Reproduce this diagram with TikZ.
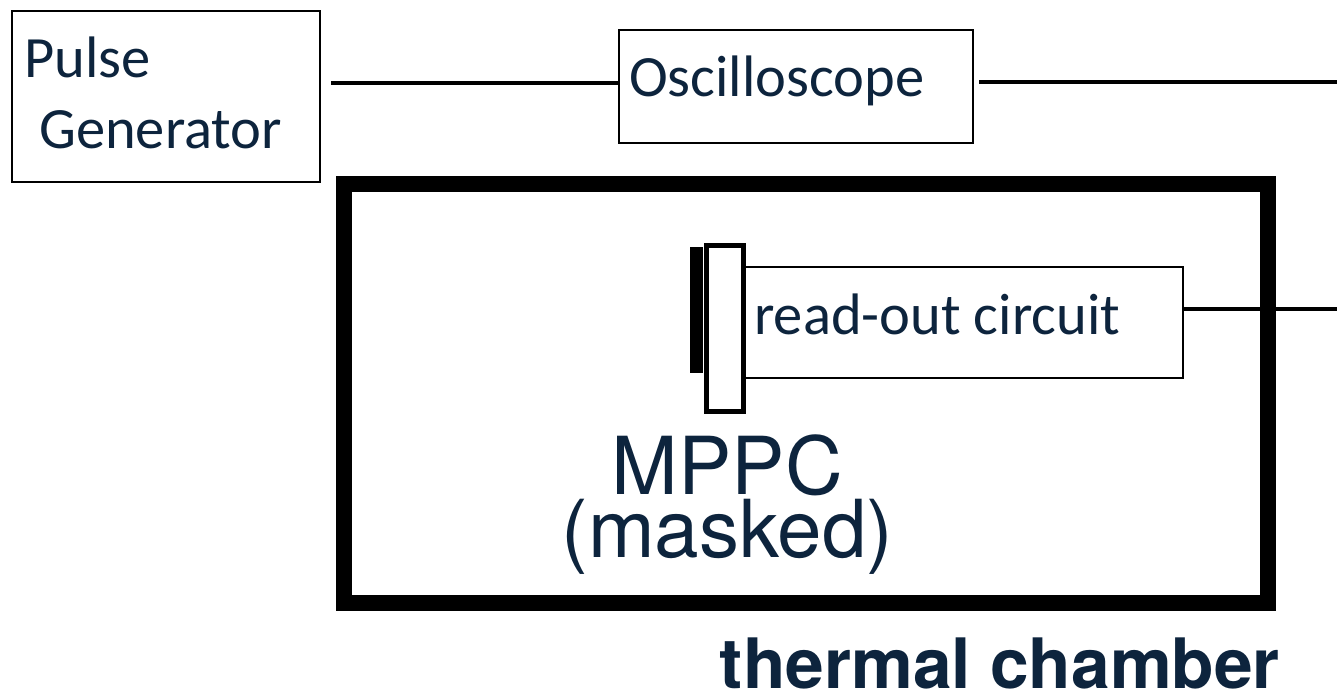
\documentclass[tikz,border=0pt]{standalone}
\usepackage{fontspec}
\setmainfont{Carlito}
\newfontfamily\heros{TeX Gyre Heros}
\definecolor{ink}{HTML}{0D243D}
\tikzset{
  device/.style={draw=black, line width=2.5pt, fill=white, inner sep=0pt},
  wire/.style={draw=black, line width=4.5pt},
  lbl/.style={inner sep=0pt, text=ink, font=\fontsize{58.5}{70}\selectfont},
}
\begin{document}
\begin{tikzpicture}[x=1pt, y=-1pt]
\useasboundingbox (0,0) rectangle (1337,696);

% instruments on the bench
\node[device, minimum width=308pt, minimum height=171pt] (pg) at (166,96.5) {};
\node[device, minimum width=354pt, minimum height=113pt] (osc) at (796,86.5) {};
\node[lbl, anchor=base west] (pgl1) at (24,77) {Pulse};
\node[lbl, anchor=base west] (pgl2) at (39,148) {Generator};
\node[lbl, anchor=base west] (oscl) at (629,96) {Oscilloscope};

% thermal chamber with the sensor and its read-out board
\node[draw=black, line width=16pt, minimum width=924pt, minimum height=419pt, inner sep=0pt] (chamber) at (806,393.5) {};
\node[device, minimum width=438pt, minimum height=111pt] (ro) at (964,322.5) {};
\node[lbl, anchor=base west] (rol) at (754,334) {read-out circuit};
\node[fill=black, minimum width=13pt, minimum height=126pt, inner sep=0pt] (mask) at (696.5,310) {};
\node[draw=black, line width=5pt, fill=white, minimum width=37pt, minimum height=166pt, inner sep=0pt] (mppc) at (725,328.5) {};
% base anchor of a two-line node sits on its last line
\node[inner sep=0pt, text=ink, align=center, font=\heros\fontsize{80}{63}\selectfont, anchor=base] (mppcl) at (727.5,557) {MPPC\\(masked)};
\node[inner sep=0pt, text=ink, font=\heros\bfseries\fontsize{69.5}{80}\selectfont, anchor=base] (chl) at (1000,688) {thermal chamber};

% cables
\coordinate (oscout) at (1337,82);
\coordinate (roout) at (1337,309);
\draw[wire] ([xshift=10pt,yshift=13.5pt]pg.east) -- ([yshift=3.5pt]osc.west);
\draw[wire] ([xshift=5pt,yshift=4.5pt]osc.east) -- (oscout);
\draw[wire] (ro.east |- roout) -- (roout);
\end{tikzpicture}
\end{document}
